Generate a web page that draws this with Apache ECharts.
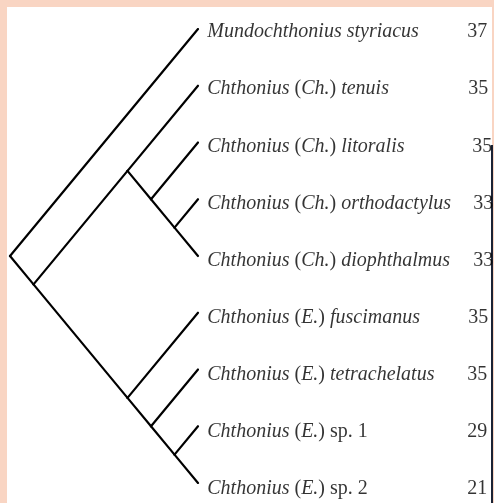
<!DOCTYPE html>
<html>
<head>
<meta charset="utf-8">
<script src="https://cdn.jsdelivr.net/npm/echarts@6/dist/echarts.min.js"></script>
<style>
html,body{margin:0;padding:0;background:#f9d5c3;}
#chart{width:494px;height:503px;}
</style>
</head>
<body>
<div id="chart"></div>
<script>
// Taxa (leaves, top to bottom)
const taxa = [
  'Mundochthonius styriacus',
  'Chthonius (Ch.) tenuis',
  'Chthonius (Ch.) litoralis',
  'Chthonius (Ch.) orthodactylus',
  'Chthonius (Ch.) diophthalmus',
  'Chthonius (E.) fuscimanus',
  'Chthonius (E.) tetrachelatus',
  'Chthonius (E.) sp. 1',
  'Chthonius (E.) sp. 2'
];
// Values shown to the right of each taxon
const counts = [37, 35, 35, 33, 33, 35, 35, 29, 21];
// Tree topology (nested leaf indices)
const topology = [0, [[1, [2, [3, 4]]], [5, [6, [7, 8]]]]];

// style-only: horizontal offset of the value labels (px)
const numShift = [269, 270, 274, 275, 275, 270, 269, 269, 269];

// Slanted cladogram layout derived from the topology
const edges = [];
function layout(node) {
  if (typeof node === 'number') return { lo: node, hi: node, x: 0, y: node };
  const kids = node.map(layout);
  const lo = Math.min(...kids.map(k => k.lo));
  const hi = Math.max(...kids.map(k => k.hi));
  const me = { lo, hi, y: (lo + hi) / 2, x: -(hi - lo) / 2 };
  kids.forEach(k => edges.push({ coords: [[me.x, me.y], [k.x, k.y]] }));
  return me;
}
layout(topology);

function fmtTaxon(t) {
  const m = t.match(/^(.*?) \((.*?)\) (.*)$/);
  if (!m) return '{i|' + t + '}';
  const rest = m[3];
  const restPart = /^sp\./.test(rest) ? '{r| ' + rest + '}' : '{i| ' + rest + '}';
  return '{i|' + m[1] + ' }{r|(}{i|' + m[2] + '}{r|)}' + restPart;
}

const labelDy = i => 3 + 0.4 * i;
const FONT = "'Liberation Serif', 'Times New Roman', serif";
const chart = echarts.init(document.getElementById('chart'), null, { renderer: 'canvas' });
chart.setOption({
  backgroundColor: '#f9d5c3',
  animation: false,
  graphic: [
    { type: 'rect', z: -10, silent: true, shape: { x: 7, y: 7, width: 485, height: 496 }, style: { fill: '#ffffff' } },
    { type: 'rect', z: -10, silent: true, shape: { x: 491, y: 145, width: 2, height: 358 }, style: { fill: '#1b2335' } }
  ],
  grid: { left: 10, right: 296, top: 29, bottom: 20 },
  xAxis: { type: 'value', min: -4, max: 0, show: false },
  yAxis: { type: 'value', min: 0, max: 8, inverse: true, show: false },
  series: [
    {
      type: 'lines',
      coordinateSystem: 'cartesian2d',
      silent: true,
      lineStyle: { color: '#000', width: 2.2, opacity: 1, cap: 'round' },
      data: edges
    },
    {
      type: 'scatter',
      silent: true,
      clip: false,
      symbolSize: 0.5,
      itemStyle: { color: 'rgba(0,0,0,0)' },
      data: taxa.map((t, i) => [0, i]),
      label: {
        show: true,
        position: 'right',
        distance: 9,
        formatter: p => fmtTaxon(taxa[p.dataIndex]),
        rich: {
          i: { fontFamily: FONT, fontSize: 20, fontStyle: 'italic', color: '#000' },
          r: { fontFamily: FONT, fontSize: 20, fontStyle: 'normal', color: '#000' }
        }
      },
      labelLayout: p => ({ dy: labelDy(p.dataIndex) })
    },
    {
      type: 'scatter',
      silent: true,
      clip: false,
      symbolSize: 0.5,
      itemStyle: { color: 'rgba(0,0,0,0)' },
      data: counts.map((c, i) => [0, i]),
      label: {
        show: true,
        position: 'right',
        distance: 0,
        formatter: p => String(counts[p.dataIndex]),
        fontFamily: FONT,
        fontSize: 20,
        color: '#000'
      },
      labelLayout: p => ({ dx: numShift[p.dataIndex], dy: labelDy(p.dataIndex) })
    }
  ]
});
</script>
</body>
</html>
